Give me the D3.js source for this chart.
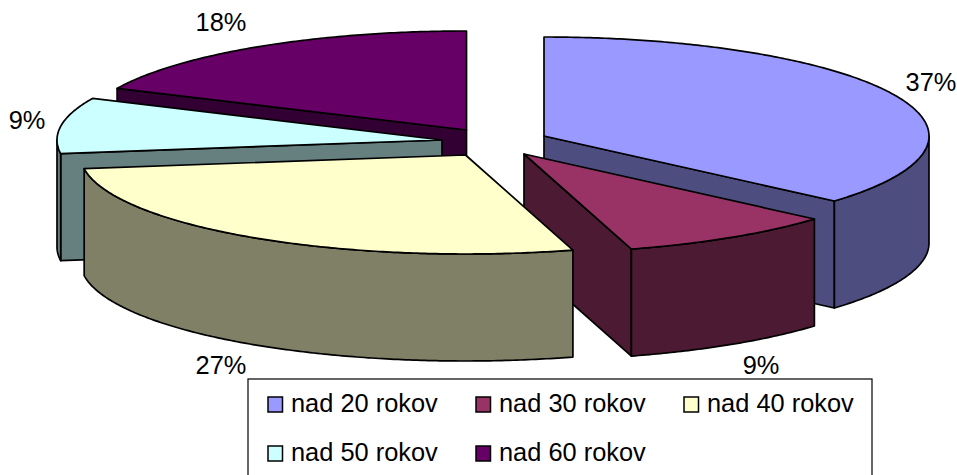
<!DOCTYPE html>
<html>
<head>
<meta charset="utf-8">
<script src="https://cdn.jsdelivr.net/npm/d3@7/dist/d3.min.js"></script>
<style>
html,body{margin:0;padding:0;background:#fff;overflow:hidden}
svg{display:block}
text{font-family:"Liberation Sans",Arial,sans-serif;fill:#000}
</style>
</head>
<body>
<svg id="chart" width="957" height="475"></svg>
<script>
// Data
const categories = ["nad 20 rokov","nad 30 rokov","nad 40 rokov","nad 50 rokov","nad 60 rokov"];
const shares = [36.4, 9.1, 27.3, 9.1, 18.1];
const shareLabels = ["37%","9%","27%","9%","18%"];
const topColors = ["#9999FF","#993366","#FFFFCC","#CCFFFF","#660066"];
const wallColors = ["#4D4D80","#4D1A33","#808066","#668080","#330033"];

// Layout
const W = 957, H = 475;
const radiusX = 385, radiusY = 99, depth = 107;
const sliceCentres = [[544,136],[524,154],[465.5,155],[442,140],[466.5,130]];
const labelAnchors = [[931,91],[761,374],[221,374],[27,129],[221,31]];
const paintOrder = [4,3,0,1,2];
const fontSize = 25.4;

const svg = d3.select("#chart");
const sx = d3.scaleLinear().domain([-1,1]).range([-radiusX,radiusX]);
const sy = d3.scaleLinear().domain([-1,1]).range([-radiusY,radiusY]);
const arcs = d3.pie().sort(null).value(d=>d).startAngle(0).endAngle(2*Math.PI)(shares);
const line = d3.line();
const rim = (c,t,drop=0)=>[c[0]+sx(Math.sin(t)), c[1]+sy(-Math.cos(t))+drop];
const samples = (a,b)=>{
  const n = Math.max(2,Math.ceil((b-a)/0.01));
  return d3.range(n+1).map(i=>a+(b-a)*i/n);
};
const style = sel=>sel.attr("stroke","#000").attr("stroke-width",1.7).attr("stroke-linejoin","round");

const pieG = svg.append("g");
paintOrder.forEach(i=>{
  const c = sliceCentres[i], a = arcs[i].startAngle, b = arcs[i].endAngle;
  const g = pieG.append("g");
  const wall = t=>{
    const p = rim(c,t);
    style(g.append("path")).attr("fill",wallColors[i])
      .attr("d",line([c,p,[p[0],p[1]+depth],[c[0],c[1]+depth]])+"Z");
  };
  if(Math.sin(a) < -1e-6) wall(a);
  if(Math.sin(b) > 1e-6) wall(b);
  const lo = Math.max(a,Math.PI/2), hi = Math.min(b,3*Math.PI/2);
  if(hi>lo){
    const ts = samples(lo,hi);
    const pts = ts.map(t=>rim(c,t)).concat(ts.slice().reverse().map(t=>rim(c,t,depth)));
    style(g.append("path")).attr("fill",wallColors[i]).attr("d",line(pts)+"Z");
  }
  const topPts = [c].concat(samples(a,b).map(t=>rim(c,t)));
  style(g.append("path")).attr("fill",topColors[i]).attr("d",line(topPts)+"Z");
});

// Percentage labels
svg.selectAll("text.pct").data(shareLabels).join("text")
  .attr("class","pct")
  .attr("text-anchor","middle")
  .attr("font-size",fontSize)
  .attr("transform",(d,i)=>`translate(${labelAnchors[i][0]},${labelAnchors[i][1]})`)
  .text(d=>d);

// Legend
svg.append("rect").attr("x",248).attr("y",379).attr("width",624).attr("height",110)
  .attr("fill","#fff").attr("stroke","#000").attr("stroke-width",1.2);
const colX = d3.scalePoint().domain([0,1,2]).range([268,684]);
const rowY = d3.scalePoint().domain([0,1]).range([397,446]);
const leg = svg.selectAll("g.leg").data(categories).join("g").attr("class","leg")
  .attr("transform",(d,i)=>`translate(${colX(i%3)},${rowY(Math.floor(i/3))})`);
leg.append("rect").attr("width",14.5).attr("height",15)
  .attr("fill",(d,i)=>topColors[i]).attr("stroke","#000").attr("stroke-width",1.5);
leg.append("text").attr("font-size",fontSize)
  .attr("transform",`translate(23,15)`)
  .text(d=>d);
</script>
</body>
</html>
